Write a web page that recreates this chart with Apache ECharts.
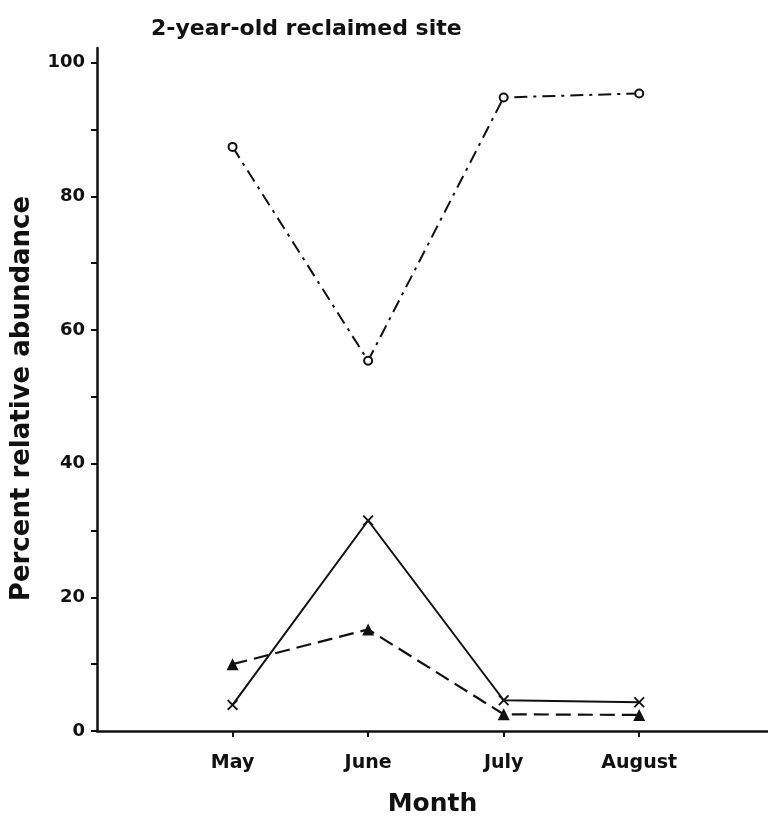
<!DOCTYPE html>
<html>
<head>
<meta charset="utf-8">
<script src="https://cdn.jsdelivr.net/npm/echarts@6/dist/echarts.min.js"></script>
<style>html,body{margin:0;padding:0;background:#fff}#c{width:768px;height:822px}</style>
</head>
<body>
<div id="c"></div>
<script>
var months = ['May', 'June', 'July', 'August'];
var circleVals = [87.4, 55.4, 94.8, 95.4];
var crossVals = [3.9, 31.5, 4.6, 4.3];
var triangleVals = [10.0, 15.2, 2.5, 2.4];
var yTicks = [0, 10, 20, 30, 40, 50, 60, 70, 80, 90, 100];
var yLabels = [0, 20, 40, 60, 80, 100];

function pts(vals) { return vals.map(function (v, i) { return [i + 1, v]; }); }
var monthPos = months.map(function (m, i) { return i + 1; });

var FONT = 'DejaVu Sans';
var INK = '#111';
var chart = echarts.init(document.getElementById('c'), null, {renderer: 'canvas'});
chart.setOption({
  animation: false,
  backgroundColor: '#fff',
  title: {
    text: '2-year-old reclaimed site',
    left: 146, top: 13,
    textStyle: {fontFamily: FONT, fontWeight: 'bold', fontSize: 22, color: INK}
  },
  grid: {left: 97, right: 0, top: 48, bottom: 88, containLabel: false},
  xAxis: {
    type: 'value', min: 0, max: 4.95,
    name: 'Month', nameLocation: 'middle', nameGap: 61,
    nameTextStyle: {fontFamily: FONT, fontWeight: 'bold', fontSize: 25, color: INK},
    axisLine: {show: true, lineStyle: {color: INK, width: 2.5}},
    axisTick: {show: true, length: 6, lineStyle: {color: INK, width: 2}, customValues: monthPos},
    axisLabel: {show: true, margin: 23, fontFamily: FONT, fontWeight: 'bold', fontSize: 19, color: INK,
      customValues: monthPos,
      formatter: function (v) { return months[Math.round(v) - 1] || ''; }},
    splitLine: {show: false}
  },
  yAxis: {
    type: 'value', min: 0, max: 102.2,
    name: 'Percent relative abundance', nameLocation: 'middle', nameGap: 62,
    nameTextStyle: {fontFamily: FONT, fontWeight: 'bold', fontSize: 26, color: INK, padding: [0, 18, 0, 0]},
    axisLine: {show: true, lineStyle: {color: INK, width: 2.5}},
    axisTick: {show: true, length: 6, lineStyle: {color: INK, width: 2}, customValues: yTicks},
    axisLabel: {show: true, margin: 12, fontFamily: FONT, fontWeight: 'bold', fontSize: 18, color: INK, customValues: yLabels},
    splitLine: {show: false}
  },
  series: [
    {
      name: 'circles', type: 'line', data: pts(circleVals),
      symbol: 'emptyCircle', symbolSize: 8,
      lineStyle: {color: INK, width: 2, type: [13, 6, 3, 6]},
      itemStyle: {color: INK, borderColor: INK, borderWidth: 2},
      z: 3
    },
    {
      name: 'crosses', type: 'line', data: pts(crossVals),
      symbol: 'path://M0,1.2L1.2,0L5,3.8L8.8,0L10,1.2L6.2,5L10,8.8L8.8,10L5,6.2L1.2,10L0,8.8L3.8,5Z',
      symbolSize: 11,
      lineStyle: {color: INK, width: 2, type: 'solid'},
      itemStyle: {color: INK},
      z: 3
    },
    {
      name: 'triangles', type: 'line', data: pts(triangleVals),
      symbol: 'triangle', symbolSize: 12,
      lineStyle: {color: INK, width: 2.2, type: [15, 7]},
      itemStyle: {color: INK},
      z: 3
    }
  ]
});
</script>
</body>
</html>
